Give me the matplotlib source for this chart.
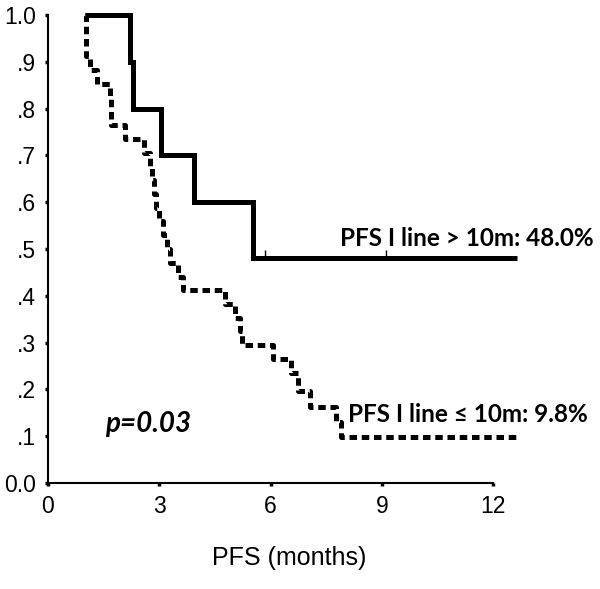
import numpy as np
import matplotlib.pyplot as plt

# survival curves (step, post)
t_long = [1.0, 2.2, 2.3, 3.05, 3.94, 5.53, 12.64]
s_long = [1.0, 0.90, 0.80, 0.70, 0.60, 0.48, 0.48]
cens_long = [5.85, 9.1]

t_short = [1.0, 1.02, 1.13, 1.32, 1.67, 1.69, 1.71, 2.08, 2.6, 2.75, 2.80, 2.85,
           2.90, 2.98, 3.1, 3.2, 3.3, 3.5, 3.65, 4.77, 5.05, 5.17, 5.23, 6.05,
           6.55, 6.75, 7.05, 7.75, 7.9, 12.64]
s_short = [1.0, 0.912, 0.882, 0.853, 0.824, 0.794, 0.765, 0.735, 0.706, 0.676, 0.647, 0.618,
           0.588, 0.559, 0.529, 0.500, 0.471, 0.441, 0.412, 0.382, 0.353, 0.324, 0.294, 0.265,
           0.235, 0.196, 0.163, 0.13, 0.098, 0.098]

y_ticks = [0.0, 0.1, 0.2, 0.3, 0.4, 0.5, 0.6, 0.7, 0.8, 0.9, 1.0]
y_labels = ['0.0', '.1', '.2', '.3', '.4', '.5', '.6', '.7', '.8', '.9', '1.0']
x_ticks = [0, 3, 6, 9, 12]

plt.rcParams['font.family'] = ['Liberation Sans', 'DejaVu Sans']

fig = plt.figure(figsize=(6, 5.89), dpi=100)
ax = fig.add_axes([0.08, 0.18, 0.804, 0.7946])

ax.step(t_long, s_long, where='post', color='black', lw=3.6,
        solid_joinstyle='miter', solid_capstyle='butt', clip_on=False)
ax.vlines(cens_long, 0.48, 0.497, color='black', lw=1)
ax.step(t_short, s_short, where='post', color='black', lw=3.6,
        linestyle=(0, (1.5, 0.95)), dash_capstyle='butt', clip_on=False)

ax.set_xlim(0, 13)
ax.set_ylim(0, 1)
for s in ['top', 'right']:
    ax.spines[s].set_visible(False)
ax.spines['left'].set_bounds(0, 1)
ax.spines['bottom'].set_bounds(0, 12)
ax.spines['left'].set_linewidth(1.5)
ax.spines['bottom'].set_linewidth(1.5)

ax.set_yticks(y_ticks)
ax.set_yticklabels(y_labels)
ax.set_xticks(x_ticks)
ax.tick_params(axis='both', length=2.5, width=2.5, labelsize=16.5, pad=6)
ax.set_xlabel('PFS (months)', fontsize=18, labelpad=20)

ax.text(7.87, 0.506, 'PFS I line > 10m: 48.0%', fontsize=17.5, fontweight='bold',
        family=['Lato', 'DejaVu Sans'], va='baseline', ha='left')
ax.text(8.09, 0.130, 'PFS I line \u2264 10m: 9.8%', fontsize=17.5, fontweight='bold',
        family=['Lato', 'DejaVu Sans'], va='baseline', ha='left')
ax.text(1.54, 0.109, 'p=0.03', fontsize=20, fontweight='bold', fontstyle='italic',
        family=['Lato', 'DejaVu Sans'], va='baseline', ha='left')

fig.savefig('out.png', dpi=100)
